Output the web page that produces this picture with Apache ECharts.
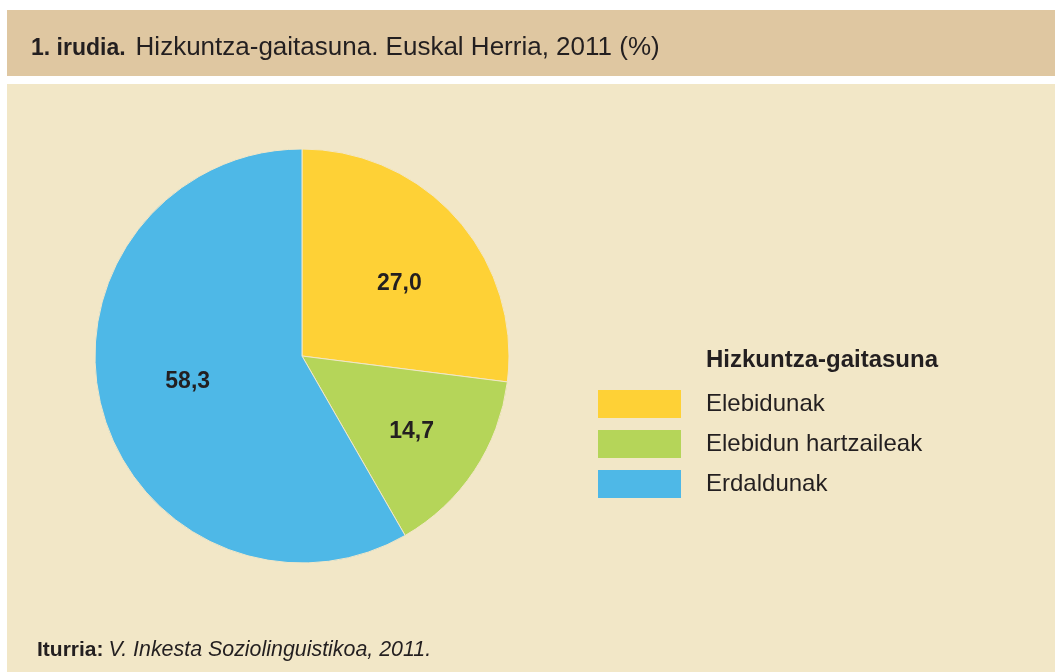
<!DOCTYPE html>
<html style="height: 100%">
<head>
    <meta charset="utf-8">
</head>
<body style="height: 100%; margin: 0; background: #fff">
    <div id="container" style="width: 1055px; height: 672px"></div>
    <script src="https://cdn.jsdelivr.net/npm/echarts@6/dist/echarts.min.js"></script>
    <script type="text/javascript">
        var categories = ['Elebidunak', 'Elebidun hartzaileak', 'Erdaldunak'];
        var values = [27.0, 14.7, 58.3];
        var colors = ['#fed136', '#b5d559', '#4eb8e7'];

        var font = "'Liberation Sans', Arial, sans-serif";
        var pieData = categories.map(function(c, i) {
            return { name: c, value: values[i], itemStyle: { color: colors[i] } };
        });
        // small nudges so the value labels sit where the original puts them
        var nudge = [[4, 10], [6, 7], [6, -6]];

        var myChart = echarts.init(document.getElementById('container'));
        var option = {
            backgroundColor: '#ffffff',
            animation: false,
            textStyle: { fontFamily: font },
            graphic: [
                { type: 'rect', z: -10, shape: { x: 7, y: 10, width: 1048, height: 66 }, style: { fill: '#dfc7a1' } },
                { type: 'rect', z: -10, shape: { x: 7, y: 84, width: 1048, height: 588 }, style: { fill: '#f2e7c7' } },
                {
                    type: 'text', left: 706, top: 348,
                    style: { text: 'Hizkuntza-gaitasuna', fill: '#231f20', fontFamily: font, fontWeight: 'bold', fontSize: 24 }
                }
            ],
            title: [{
                left: 26, top: 26,
                text: '{b|1. irudia.}  {n|Hizkuntza-gaitasuna. Euskal Herria, 2011 (%)}',
                textStyle: {
                    fontWeight: 'normal', fontFamily: font, lineHeight: 30,
                    rich: {
                        b: { fontFamily: font, fontWeight: 'bold', fontSize: 23, color: '#231f20', lineHeight: 30, verticalAlign: 'bottom', padding: [0, 0, 1, 0] },
                        n: { fontFamily: font, fontWeight: 'normal', fontSize: 26, color: '#231f20', lineHeight: 30, verticalAlign: 'bottom' }
                    }
                }
            }, {
                left: 32, top: 635,
                text: '{b|Iturria:} {i|V. Inkesta Soziolinguistikoa, 2011.}',
                textStyle: {
                    fontWeight: 'normal', fontFamily: font,
                    rich: {
                        b: { fontFamily: font, fontWeight: 'bold', fontSize: 21, color: '#231f20' },
                        i: { fontFamily: font, fontWeight: 'normal', fontStyle: 'italic', fontSize: 21.4, color: '#231f20' }
                    }
                }
            }],
            legend: {
                orient: 'vertical',
                left: 591, top: 383,
                itemWidth: 85, itemHeight: 30, itemGap: 8,
                icon: 'rect',
                selectedMode: false,
                textStyle: { fontFamily: font, fontSize: 24, color: '#231f20', padding: [0, 0, 0, 19] },
                data: categories
            },
            series: [{
                type: 'pie',
                center: [302, 356],
                radius: [0, 207],
                startAngle: 90,
                clockwise: true,
                label: { show: false },
                labelLine: { show: false },
                itemStyle: { borderColor: '#f2e7c7', borderWidth: 1 },
                silent: true,
                data: pieData
            }, {
                // transparent overlay just to place the value labels
                type: 'pie',
                center: [302, 356],
                radius: [36, 207],
                startAngle: 90,
                clockwise: true,
                silent: true,
                legendHoverLink: false,
                itemStyle: { color: 'rgba(0,0,0,0)' },
                label: {
                    show: true,
                    position: 'inside',
                    fontFamily: font,
                    fontWeight: 'bold',
                    fontSize: 23,
                    color: '#231f20',
                    formatter: function(p) { return p.value.toFixed(1).replace('.', ','); }
                },
                data: categories.map(function(c, i) {
                    return { name: c + ' ', value: values[i], label: { offset: nudge[i] } };
                })
            }]
        };
        myChart.setOption(option);
    </script>
</body>
</html>
